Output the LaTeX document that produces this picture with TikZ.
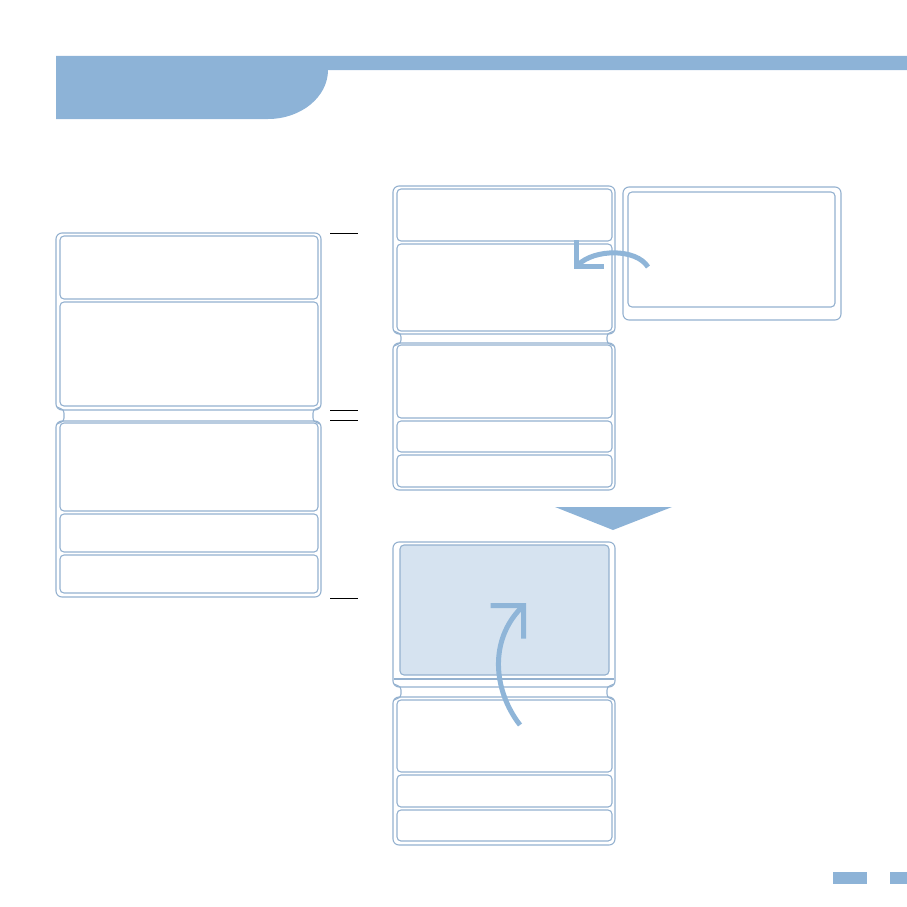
\documentclass[tikz,border=0pt]{standalone}
\usetikzlibrary{arrows.meta}
\definecolor{lineblue}{HTML}{94B1CF}
\definecolor{headblue}{HTML}{8DB3D7}
\definecolor{fillblue}{HTML}{D6E3F0}
\definecolor{arrowblue}{HTML}{8FB5D8}
\tikzset{
  outerbox/.style={draw=lineblue, line width=1.1pt, rounded corners=6pt, inner sep=0pt, outer sep=0pt},
  innerbox/.style={draw=lineblue, line width=1.1pt, rounded corners=4pt, inner sep=0pt, outer sep=0pt},
  filledbox/.style={innerbox, fill=fillblue},
  hingeline/.style={draw=lineblue, line width=1.1pt},
  tickline/.style={draw=black, line width=0.8pt},
  turnarrow/.style={draw=arrowblue, line width=5pt, -{Straight Barb[angle=90:#1]}, line join=miter},
  turnarrow/.default=30pt,
}
\newcommand\bxnode[6]{\node[#1, anchor=north west, minimum width={#5-#3}, minimum height={#6-#4}] (#2) at (#3,#4) {};}
\newcommand\hingepair[4]{%
  \draw[hingeline] ({#1+1},{#3-3}) .. controls ({#1+8},{#3}) .. ({#1+8},{#3+3}) -- ({#1+8},{#4-3}) .. controls ({#1+8},{#4}) .. ({#1+1},{#4+3});
  \draw[hingeline] ({#2-1},{#3-3}) .. controls ({#2-8},{#3}) .. ({#2-8},{#3+3}) -- ({#2-8},{#4-3}) .. controls ({#2-8},{#4}) .. ({#2-1},{#4+3});}
\begin{document}
\begin{tikzpicture}[x=1pt,y=-1pt]
\useasboundingbox (0,0) rectangle (907,907);
% header
\fill[headblue] (56,56) -- (907,56) -- (907,70) -- (328,70) .. controls (328,97) and (301,119) .. (268,119) -- (56,119) -- cycle;
% left device
\bxnode{outerbox}{lidL}{56}{233}{321}{410}
\bxnode{innerbox}{l1}{60}{236}{318}{299}
\bxnode{innerbox}{l2}{60}{302}{318}{406}
\bxnode{outerbox}{baseL}{56}{421}{321}{597}
\bxnode{innerbox}{l3}{60}{423}{318}{511}
\bxnode{innerbox}{l4}{60}{514}{318}{552}
\bxnode{innerbox}{l5}{60}{555}{318}{593}
\hingepair{56}{321}{410}{421}
% tick lines
\draw[tickline] (330,233) -- (358,233);
\draw[tickline] (330,410) -- (358,410);
\draw[tickline] (330,420) -- (358,420);
\draw[tickline] (330,598) -- (358,598);
% right top device
\bxnode{outerbox}{lidR}{393}{186}{615}{334}
\bxnode{innerbox}{r1}{397}{189}{612}{241}
\bxnode{innerbox}{r2}{397}{244}{612}{331}
\bxnode{outerbox}{baseR}{393}{343}{615}{490}
\bxnode{innerbox}{r3}{397}{345}{612}{418}
\bxnode{innerbox}{r4}{397}{421}{612}{452}
\bxnode{innerbox}{r5}{397}{455}{612}{487}
\hingepair{393}{615}{334}{343}
% tablet
\bxnode{outerbox}{tabO}{623}{187}{841}{320}
\bxnode{innerbox}{tabI}{628}{192}{835}{307}
% triangle
\fill[headblue] (555,507) -- (672,507) -- (613,530) -- cycle;
% bottom device
\bxnode{outerbox}{lidB}{393}{542}{615}{687}
\bxnode{filledbox}{b0}{400}{545}{609}{675}
\draw[hingeline] (394,679) -- (614,679);
\bxnode{outerbox}{baseB}{393}{697}{615}{845}
\bxnode{innerbox}{b1}{397}{700}{612}{772}
\bxnode{innerbox}{b2}{397}{775}{612}{807}
\bxnode{innerbox}{b3}{397}{810}{612}{841}
\hingepair{393}{615}{687}{697}
% arrows
\coordinate (a1s) at (648,267);
\coordinate (a1e) at (574,269);
\draw[turnarrow=27pt] (a1s) .. controls (636,248) and (594,249) .. (a1e);
\coordinate (a2s) at (520,725);
\coordinate (a2e) at (526,603);
\draw[turnarrow=33pt] (a2s) .. controls (493,690) and (489,640) .. (a2e);
% page markers
\fill[headblue] (833,872) rectangle (867,884);
\fill[headblue] (890,872) rectangle (907,884);
\end{tikzpicture}
\end{document}
